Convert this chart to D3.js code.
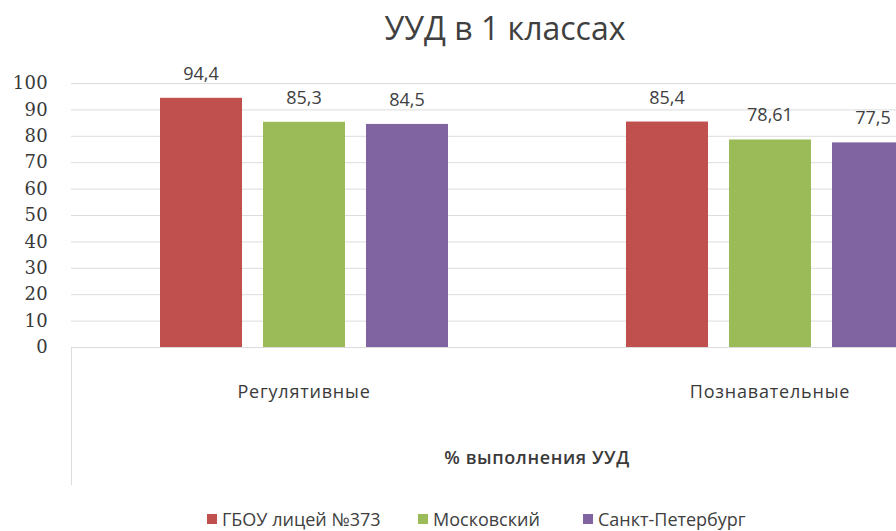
<!DOCTYPE html>
<html>
<head>
<meta charset="utf-8">
<script src="https://cdn.jsdelivr.net/npm/d3@7"></script>
<style>
  body { margin: 0; background: #fff; overflow: hidden; }
  .tick text { fill: #3a3a3a; }
</style>
</head>
<body>
<div id="chart"></div>
<script>
var categories = ["Регулятивные", "Познавательные"];
var seriesNames = ["ГБОУ лицей №373", "Московский", "Санкт-Петербург"];
var seriesColors = ["#C0504D", "#9BBB59", "#8064A2"];
var licey = [94.4, 85.4];
var moskovsky = [85.3, 78.61];
var spb = [84.5, 77.5];
var labelsLicey = ["94,4", "85,4"];
var labelsMoskovsky = ["85,3", "78,61"];
var labelsSpb = ["84,5", "77,5"];
var yTicks = [0, 10, 20, 30, 40, 50, 60, 70, 80, 90, 100];

var values = [licey, moskovsky, spb];
var labels = [labelsLicey, labelsMoskovsky, labelsSpb];

var width = 896, height = 531;
var plotLeft = 71, plotRight = 1003, plotTop = 83, plotBottom = 347;

var svg = d3.select("#chart")
    .append("svg")
    .attr("width", width)
    .attr("height", height)
    .style("font-family", "'Open Sans', sans-serif");

var x0 = d3.scaleBand().domain(categories).range([plotLeft, plotRight]);
var x1 = d3.scaleBand().domain(seriesNames).range([0, x0.bandwidth()])
    .paddingInner(0.204).paddingOuter(0.864);
var y = d3.scaleLinear().domain([0, 100]).range([plotBottom, plotTop]);

// title
svg.append("text")
    .attr("x", 505).attr("y", 40)
    .attr("text-anchor", "middle")
    .style("font-size", "32px")
    .style("fill", "#404040")
    .text("УУД в 1 классах");

// gridlines
svg.append("g")
    .selectAll("line")
    .data(yTicks)
    .enter()
    .append("line")
    .attr("x1", plotLeft).attr("x2", plotRight)
    .attr("y1", d => y(d) + 0.5).attr("y2", d => y(d) + 0.5)
    .style("stroke", "#dcdcdc");

// y axis
var yAxis = d3.axisLeft(y).tickValues(yTicks).tickSize(0).tickPadding(0);
var gy = svg.append("g")
    .attr("transform", "translate(48,0)")
    .call(yAxis);
gy.select(".domain").remove();
gy.selectAll("text")
    .style("font-family", "'DejaVu Serif', serif")
    .style("font-size", "18px")
    .style("letter-spacing", "0.3px");

// category axis box line
svg.append("line")
    .attr("x1", plotLeft + 0.5).attr("x2", plotLeft + 0.5)
    .attr("y1", plotBottom).attr("y2", 485)
    .style("stroke", "#dcdcdc");

// bars
var groups = svg.selectAll(".group")
    .data(categories)
    .enter()
    .append("g")
    .attr("class", "group")
    .attr("transform", d => "translate(" + x0(d) + ",0)");

groups.selectAll("rect")
    .data((d, i) => seriesNames.map((s, j) => ({ s: s, v: values[j][i], l: labels[j][i], c: seriesColors[j] })))
    .enter()
    .append("rect")
    .attr("x", d => x1(d.s))
    .attr("width", x1.bandwidth())
    .attr("y", d => y(d.v))
    .attr("height", d => y(0) - y(d.v))
    .style("fill", d => d.c);

groups.selectAll(".lbl")
    .data((d, i) => seriesNames.map((s, j) => ({ s: s, v: values[j][i], l: labels[j][i] })))
    .enter()
    .append("text")
    .attr("class", "lbl")
    .attr("x", d => x1(d.s) + x1.bandwidth() / 2)
    .attr("y", d => y(d.v) - 18)
    .attr("text-anchor", "middle")
    .style("font-size", "18px")
    .style("fill", "#404040")
    .text(d => d.l);

// category labels
var xAxis = d3.axisBottom(x0).tickSize(0).tickPadding(0);
var gx = svg.append("g")
    .attr("transform", "translate(0,385)")
    .call(xAxis);
gx.select(".domain").remove();
gx.selectAll("text")
    .style("font-family", "'Open Sans', sans-serif")
    .style("font-size", "18px")
    .style("letter-spacing", "0.8px");

// axis title
svg.append("text")
    .attr("x", (plotLeft + plotRight) / 2).attr("y", 464)
    .attr("text-anchor", "middle")
    .style("font-size", "18px")
    .style("font-weight", "600")
    .style("letter-spacing", "0.6px")
    .style("fill", "#3a3a3a")
    .text("% выполнения УУД");

// legend
var legendX = [207, 418, 583];
var legend = svg.selectAll(".legend")
    .data(seriesNames)
    .enter()
    .append("g")
    .attr("class", "legend")
    .attr("transform", (d, i) => "translate(" + legendX[i] + ",514)");

legend.append("rect")
    .attr("width", 10).attr("height", 10)
    .style("fill", (d, i) => seriesColors[i]);

legend.append("text")
    .attr("x", 15).attr("y", 12)
    .style("font-size", "18px")
    .style("fill", "#404040")
    .text(d => d);
</script>
</body>
</html>
